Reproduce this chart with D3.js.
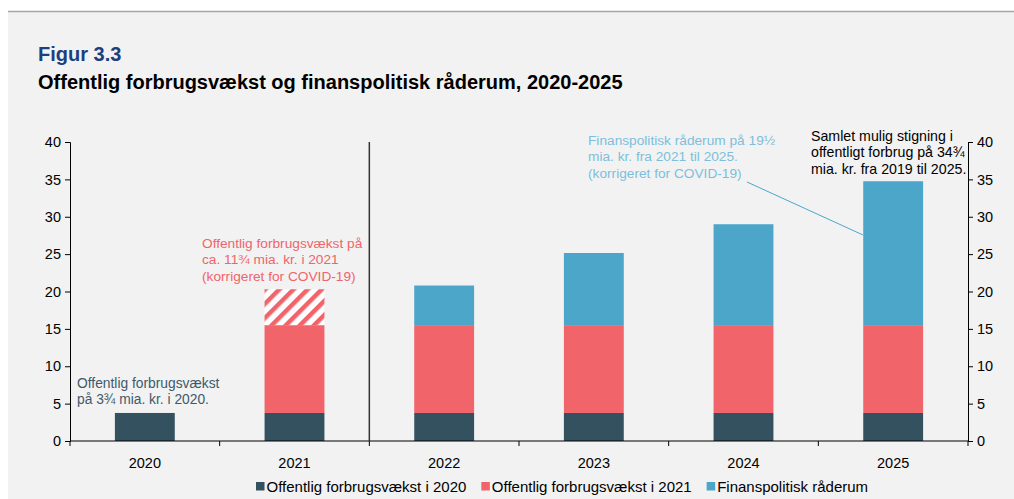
<!DOCTYPE html>
<html>
<head>
<meta charset="utf-8">
<script src="https://cdn.jsdelivr.net/npm/d3@7"></script>
<style>
  body { margin: 0; background: #ffffff; }
  svg { display: block; font-family: "Liberation Sans", Arial, sans-serif; }
</style>
</head>
<body>
<div id="chart"></div>
<script>
// ---- data ----
var years = ["2020", "2021", "2022", "2023", "2024", "2025"];
var vaekst2020 = [3.75, 3.75, 3.75, 3.75, 3.75, 3.75];
var vaekst2021 = [0, 11.75, 11.75, 11.75, 11.75, 11.75];
var covid2021 = [0, 4.8, 0, 0, 0, 0];           // hatched part
var raaderum = [0, 0, 5.3, 9.65, 13.5, 19.25];
var yTicks = [0, 5, 10, 15, 20, 25, 30, 35, 40];
var legendLabels = ["Offentlig forbrugsvækst i 2020", "Offentlig forbrugsvækst i 2021", "Finanspolitisk råderum"];

var colDark = "#34515f", colRed = "#f0646a", colBlue = "#4ba6ca";

var W = 1014, H = 499;
var margin = {left: 70, right: 46, top: 142, bottom: 58};
var winner = W - margin.left - margin.right;
var hinner = H - margin.top - margin.bottom;

var svg = d3.select("#chart").append("svg").attr("width", W).attr("height", H);

// background panel and top rule
svg.append("rect").attr("x", 8).attr("y", 12).attr("width", W - 8).attr("height", H - 12).attr("fill", "#f2f2f2");
svg.append("line").attr("x1", 8).attr("x2", W).attr("y1", 11.5).attr("y2", 11.5)
  .attr("stroke", "#a6a6a6").attr("stroke-width", 1.5);

// titles
svg.append("text").text("Figur 3.3").attr("x", 38).attr("y", 61)
  .attr("fill", "#1d3f7e").style("font-size", "20px").style("font-weight", "bold");
svg.append("text").text("Offentlig forbrugsvækst og finanspolitisk råderum, 2020-2025").attr("x", 38).attr("y", 89)
  .attr("fill", "#000").style("font-size", "20px").style("font-weight", "bold");

// hatch pattern
var defs = svg.append("defs");
var pat = defs.append("pattern").attr("id", "hatch").attr("patternUnits", "userSpaceOnUse")
  .attr("width", 10).attr("height", 10).attr("patternTransform", "rotate(45)");
pat.append("rect").attr("width", 10).attr("height", 10).attr("fill", "#ffffff");
pat.append("rect").attr("width", 4.5).attr("height", 10).attr("fill", colRed);

var g = svg.append("g").attr("transform", "translate(" + margin.left + "," + margin.top + ")");

var xscale = d3.scaleBand().domain(years).range([0, winner]).paddingInner(0.6).paddingOuter(0.3);
var yscale = d3.scaleLinear().domain([0, 40]).range([hinner, 0]);

// stacked segments
var series = [
  {vals: vaekst2020, fill: colDark},
  {vals: vaekst2021, fill: colRed},
  {vals: covid2021, fill: "url(#hatch)"},
  {vals: raaderum, fill: colBlue}
];
var segs = [];
years.forEach(function(y, i) {
  var base = 0;
  series.forEach(function(s) {
    var v = s.vals[i];
    if (v > 0) segs.push({year: y, y0: base, y1: base + v, fill: s.fill});
    base += v;
  });
});
g.selectAll(".bar").data(segs).enter().append("rect").attr("class", "bar")
  .attr("x", function(d) { return xscale(d.year); })
  .attr("width", xscale.bandwidth())
  .attr("y", function(d) { return yscale(d.y1); })
  .attr("height", function(d) { return yscale(d.y0) - yscale(d.y1); })
  .attr("fill", function(d) { return d.fill; });

// axes
var yleft = g.append("g").call(d3.axisLeft(yscale).tickValues(yTicks).tickSize(5).tickPadding(4));
var yright = g.append("g").attr("transform", "translate(" + winner + ",0)")
  .call(d3.axisRight(yscale).tickValues(yTicks).tickSize(5).tickPadding(4));
[yleft, yright].forEach(function(a) {
  a.selectAll("text").style("font-size", "14.5px").attr("fill", "#000").style("font-family", "'Liberation Sans', Arial, sans-serif");
  a.selectAll("line, path").attr("stroke", "#000");
});

// x axis: line with ticks at band boundaries
var step = xscale.step();
g.append("line").attr("x1", 0).attr("x2", winner).attr("y1", hinner).attr("y2", hinner).attr("stroke", "#000");
d3.range(years.length + 1).forEach(function(i) {
  g.append("line").attr("x1", i * step).attr("x2", i * step).attr("y1", hinner).attr("y2", hinner + 5).attr("stroke", "#000");
});
g.selectAll(".xlab").data(years).enter().append("text").attr("class", "xlab")
  .attr("x", function(d) { return xscale(d) + xscale.bandwidth() / 2; })
  .attr("y", hinner + 27).attr("text-anchor", "middle").style("font-size", "14.5px").text(function(d) { return d; });

// divider between 2021 and 2022
g.append("line").attr("x1", 2 * step).attr("x2", 2 * step).attr("y1", 0).attr("y2", hinner)
  .attr("stroke", "#333").attr("stroke-width", 1.5);

// annotations
function note(lines, x, y, color, size) {
  var t = svg.append("text").attr("x", x).attr("y", y).attr("fill", color).style("font-size", size + "px");
  lines.forEach(function(l, i) {
    t.append("tspan").attr("x", x).attr("dy", i === 0 ? 0 : 16.3).text(l);
  });
}
note(["Offentlig forbrugsvækst", "på 3¾ mia. kr. i 2020."], 77, 388, "#3d5a6b", 13.8);
note(["Offentlig forbrugsvækst på", "ca. 11¾ mia. kr. i 2021", "(korrigeret for COVID-19)"], 202, 248, colRed, 13.7);
note(["Finanspolitisk råderum på 19½", "mia. kr. fra 2021 til 2025.", "(korrigeret for COVID-19)"], 588, 145, "#7cbfdc", 13.7);
note(["Samlet mulig stigning i", "offentligt forbrug på 34¾", "mia. kr. fra 2019 til 2025."], 811, 141, "#000", 14.2);
svg.append("line").attr("x1", 747).attr("y1", 182).attr("x2", 863).attr("y2", 235)
  .attr("stroke", "#4ba6ca").attr("stroke-width", 1);

// legend
var legColors = [colDark, colRed, colBlue];
var lx = 256;
legendLabels.forEach(function(l, i) {
  svg.append("rect").attr("x", lx).attr("y", 482).attr("width", 8.5).attr("height", 8.5).attr("fill", legColors[i]);
  var t = svg.append("text").attr("x", lx + 10.5).attr("y", 492).style("font-size", "15px").text(l);
  lx += 10.5 + t.node().getComputedTextLength() + 15;
});
</script>
</body>
</html>
